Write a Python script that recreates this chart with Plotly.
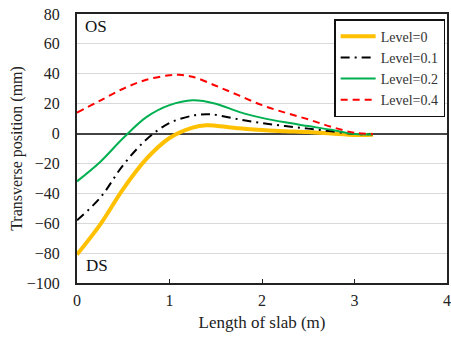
import plotly.graph_objects as go

x0 = [0, 0.25, 0.5, 0.75, 1.0, 1.25, 1.4, 1.5, 1.75, 2.0, 2.25, 2.5, 2.75, 3.0, 3.2]
y0 = [-81, -61, -37, -17, -3, 4, 5.6, 5.3, 3.5, 2.3, 1.6, 1.0, 0, -1, -0.8]

x1 = [0, 0.25, 0.5, 0.75, 1.0, 1.25, 1.4, 1.5, 1.75, 2.0, 2.25, 2.5, 2.75, 3.0, 3.2]
y1 = [-58, -43, -21, -4, 7, 12, 13, 12.5, 9.5, 7, 5, 3.3, 1.5, -0.3, -0.5]

x2 = [0, 0.25, 0.5, 0.75, 1.0, 1.25, 1.5, 1.75, 2.0, 2.25, 2.5, 2.75, 3.0, 3.2]
y2 = [-32, -19, -3, 11, 19, 22.3, 20, 14.5, 10.5, 7.5, 5, 2.5, -0.3, -0.5]

x4 = [0, 0.25, 0.5, 0.75, 1.0, 1.1, 1.25, 1.5, 1.75, 2.0, 2.25, 2.5, 2.75, 3.0, 3.2]
y4 = [14, 22, 30, 36, 39, 39.3, 38, 32, 25.5, 19, 14, 9.5, 4.5, 0.5, -0.3]

names = ["Level=0", "Level=0.1", "Level=0.2", "Level=0.4"]
x_ticks = [0, 1, 2, 3, 4]
y_ticks = [-100, -80, -60, -40, -20, 0, 20, 40, 60, 80]

FONT = "Liberation Serif, Times New Roman, serif"

fig = go.Figure()
fig.add_trace(go.Scatter(x=x0, y=y0, name=names[0], mode="lines",
                         line=dict(color="#FFC000", width=4, shape="spline")))
fig.add_trace(go.Scatter(x=x1, y=y1, name=names[1], mode="lines",
                         line=dict(color="black", width=2, shape="spline", dash="9px,5px,2px,5px")))
fig.add_trace(go.Scatter(x=x2, y=y2, name=names[2], mode="lines",
                         line=dict(color="#00B050", width=2, shape="spline")))
fig.add_trace(go.Scatter(x=x4, y=y4, name=names[3], mode="lines",
                         line=dict(color="#FF0000", width=2, shape="spline", dash="7px,5px")))

fig.add_annotation(x=0.21, y=71.5, text="OS", showarrow=False,
                   font=dict(family=FONT, size=17, color="#111"))
fig.add_annotation(x=0.22, y=-88.5, text="DS", showarrow=False,
                   font=dict(family=FONT, size=17, color="#111"))

fig.update_layout(
    width=451, height=337,
    margin=dict(l=77, r=4, t=14, b=54, autoexpand=False),
    paper_bgcolor="white", plot_bgcolor="white",
    font=dict(family=FONT, size=16, color="#222"),
    legend=dict(x=0.695, y=0.981, xanchor="left", yanchor="top",
                bgcolor="white", bordercolor="#111", borderwidth=1.5,
                font=dict(family=FONT, size=14, color="#333"),
                itemwidth=35, tracegroupgap=0),
    showlegend=True,
)
fig.update_xaxes(range=[0, 4], tickvals=x_ticks, showgrid=False, automargin=False,
                 showline=True, linecolor="#222", linewidth=2, mirror=True,
                 ticks="inside", ticklen=4, tickcolor="#222", ticklabeloverflow="allow",
                 zeroline=False, tickfont=dict(size=16), ticklabelstandoff=2,
                 title=dict(text="Length of slab (m)", font=dict(family=FONT, size=17), standoff=8))
fig.update_yaxes(range=[-100, 80], tickvals=y_ticks, showgrid=True, gridcolor="#d9d9d9",
                 gridwidth=1, automargin=False, ticklabeloverflow="allow",
                 showline=True, linecolor="#222", linewidth=2, mirror=True,
                 ticks="", zeroline=True, zerolinecolor="#444", zerolinewidth=1.5,
                 ticklabelstandoff=12, tickfont=dict(size=16),
                 title=dict(text="Transverse position (mm)", font=dict(family=FONT, size=16), standoff=0))

# remove the browser's default 8px page margin so the figure fills the window
fig.write_html("out.html", config={"displayModeBar": False},
               post_script="document.body.style.margin='0';")
